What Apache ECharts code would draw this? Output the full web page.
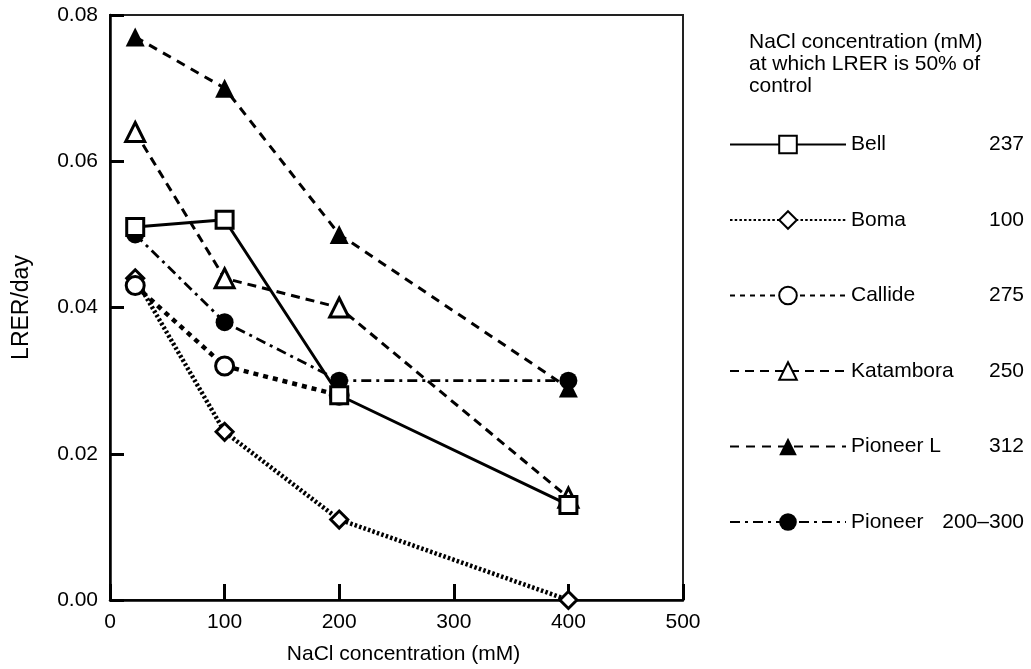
<!DOCTYPE html>
<html>
<head>
<meta charset="utf-8">
<script src="https://cdn.jsdelivr.net/npm/echarts@6/dist/echarts.min.js"></script>
<style>
  html, body { margin: 0; padding: 0; background: #fff; }
  #main { width: 1031px; height: 669px; }
</style>
</head>
<body>
<div id="main"></div>
<script>
// NaCl concentration (mM) of each measurement
var nacl = [22, 100, 200, 400];

// LRER/day per cultivar
var bell = [0.051, 0.052, 0.028, 0.013];
var boma = [0.044, 0.023, 0.011, 0.000];
var callide = [0.043, 0.032, 0.028];
var katambora = [0.064, 0.044, 0.040, 0.014];
var pioneerL = [0.077, 0.070, 0.050, 0.029];
var pioneer = [0.050, 0.038, 0.030, 0.030];

// legend names and the 50%-of-control concentration
var cultivars = ['Bell', 'Boma', 'Callide', 'Katambora', 'Pioneer L', 'Pioneer'];
var halfControl = ['237', '100', '275', '250', '312', '200–300'];

var xTicks = [0, 100, 200, 300, 400, 500];
var yTicks = [0, 0.02, 0.04, 0.06, 0.08];

var FONT = 'Liberation Sans, Arial, Helvetica, sans-serif';

function pairs(ys) {
  var out = [];
  for (var i = 0; i < ys.length; i++) {
    out.push([nacl[i], ys[i]]);
  }
  return out;
}

function makeSeries(name, ys, symbol, size, filled, dash, width, z) {
  return {
    name: name,
    type: 'line',
    data: pairs(ys),
    symbol: symbol,
    symbolSize: size,
    showAllSymbol: true,
    clip: false,
    z: z || 2,
    lineStyle: { color: '#000', width: width, type: dash, cap: 'butt' },
    itemStyle: {
      color: filled ? '#000' : '#fff',
      borderColor: '#000',
      borderWidth: filled ? 0 : 3,
      opacity: 1
    },
    emphasis: { disabled: true },
    animation: false
  };
}

var chart = echarts.init(document.getElementById('main'), null, { renderer: 'canvas' });

var option = {
  backgroundColor: '#fff',
  animation: false,
  textStyle: { fontFamily: FONT, color: '#000' },
  grid: {
    left: 110,
    right: 348,
    top: 15,
    bottom: 69,
    outerBoundsMode: 'none',
    containLabel: false,
    show: true,
    borderColor: '#222',
    borderWidth: 2,
    backgroundColor: 'transparent'
  },
  xAxis: {
    type: 'value',
    min: xTicks[0],
    max: xTicks[xTicks.length - 1],
    interval: 100,
    name: 'NaCl concentration (mM)',
    nameLocation: 'middle',
    nameGap: 44,
    nameTextStyle: { fontSize: 21, fontFamily: FONT, color: '#000', padding: [0, 0, 0, 14] },
    axisLine: { lineStyle: { color: '#000', width: 2.5 } },
    axisTick: { inside: true, length: 16, lineStyle: { color: '#000', width: 3 } },
    axisLabel: { fontSize: 21, fontFamily: FONT, color: '#000', margin: 12 },
    splitLine: { show: false }
  },
  yAxis: {
    type: 'value',
    min: yTicks[0],
    max: yTicks[yTicks.length - 1],
    interval: 0.02,
    name: 'LRER/day',
    nameLocation: 'middle',
    nameGap: 77,
    nameTextStyle: { fontSize: 23, fontFamily: FONT, color: '#000' },
    axisLine: { lineStyle: { color: '#000', width: 2.5 } },
    axisTick: { inside: true, length: 14, lineStyle: { color: '#000', width: 3 } },
    axisLabel: {
      fontSize: 21, fontFamily: FONT, color: '#000', margin: 12,
      formatter: function (v) { return v.toFixed(2); }
    },
    splitLine: { show: false }
  },
  legend: {
    orient: 'vertical',
    left: 729,
    top: 134,
    padding: 0,
    itemWidth: 116,
    itemHeight: 22,
    itemGap: 54.5,
    data: cultivars,
    selectedMode: false,
    textStyle: {
      fontSize: 21,
      fontFamily: FONT,
      color: '#000',
      rich: {
        n: { width: 92, fontSize: 21, fontFamily: FONT, color: '#000' },
        v: { width: 81, align: 'right', fontSize: 21, fontFamily: FONT, color: '#000' }
      }
    },
    formatter: function (name) {
      var i = cultivars.indexOf(name);
      return '{n|' + name + '}{v|' + halfControl[i] + '}';
    }
  },
  graphic: [{
    type: 'text',
    left: 749,
    top: 31,
    style: {
      text: 'NaCl concentration (mM)\nat which LRER is 50% of\ncontrol',
      font: '21px ' + FONT,
      lineHeight: 22,
      fill: '#000'
    }
  }],
  series: [
    makeSeries('Bell', bell, 'rect', 17, false, 'solid', 3, 5),
    makeSeries('Boma', boma, 'diamond', 17, false, [2.5, 2.2], 4.5, 2),
    makeSeries('Callide', callide, 'circle', 18, false, [5, 5], 4.5, 2),
    makeSeries('Katambora', katambora, 'triangle', 19, false, [9, 6], 3, 2),
    makeSeries('Pioneer L', pioneerL, 'triangle', 19, true, [9, 7], 3, 3),
    makeSeries('Pioneer', pioneer, 'circle', 18, true, [10, 5, 3, 5], 2.8, 4)
  ]
};

chart.setOption(option);
</script>
</body>
</html>
